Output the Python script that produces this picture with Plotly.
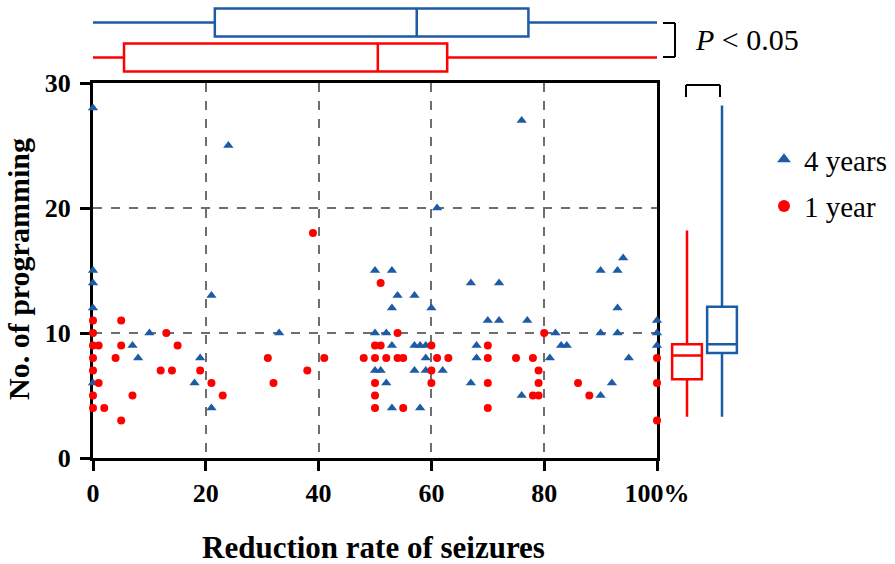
import plotly.graph_objects as go

# scatter data: reduction rate of seizures (%) vs number of programming sessions
four_years_rate = [0, 24, 0, 0, 21, 0, 10, 33, 7, 8, 19, 0, 18, 21,
                   76, 61, 50, 53, 90, 93, 94,
                   54, 57, 53, 60, 50, 52, 53, 57, 58, 59, 59, 50, 51, 57, 59, 62, 52, 53, 58,
                   67, 67, 68, 68, 70, 72, 72, 76, 77, 81, 82, 83, 84, 90, 90, 92, 93, 93, 95,
                   100, 100, 100]
four_years_prog = [28, 25, 15, 14, 13, 12, 10, 10, 9, 8, 8, 6, 6, 4,
                   27, 20, 15, 15, 15, 15, 16,
                   13, 13, 12, 12, 10, 10, 9, 9, 9, 9, 8, 7, 7, 7, 7, 7, 6, 4, 4,
                   14, 6, 9, 8, 11, 14, 11, 5, 11, 8, 10, 9, 9, 10, 5, 6, 12, 10, 8,
                   11, 10, 9]

one_year_rate = [0, 5, 0, 13, 0, 1, 5, 15, 0, 4, 31, 0, 12, 14, 19, 1, 21, 32, 0, 7, 23, 0, 2, 5,
                 39, 38, 41, 48, 50, 50, 50, 50, 50, 51, 51, 52, 54, 54, 55, 55, 60, 60, 60, 61, 63,
                 70, 70, 70, 70, 75, 78, 78, 79, 79, 79, 80, 86, 88, 100, 100, 100]
one_year_prog = [11, 11, 10, 10, 9, 9, 9, 9, 8, 8, 8, 7, 7, 7, 7, 6, 6, 6, 5, 5, 5, 4, 4, 3,
                 18, 7, 8, 8, 9, 8, 6, 5, 4, 14, 9, 8, 10, 8, 8, 4, 9, 7, 6, 8, 8,
                 9, 8, 6, 4, 8, 8, 5, 7, 6, 5, 10, 6, 5, 8, 6, 3]

# box summaries: [4 years, 1 year]
groups = ['4 years', '1 year']
rate_min = [0, 0]
rate_q1 = [21.6, 5.5]
rate_median = [57.4, 50.5]
rate_q3 = [77.2, 62.8]
rate_max = [100, 100]

prog_min = [3.3, 3.3]
prog_q1 = [8.4, 6.3]
prog_median = [9.1, 8.2]
prog_q3 = [12.1, 9.1]
prog_max = [28.2, 18.2]

x_ticks = [0, 20, 40, 60, 80, 100]
x_ticklabels = ['0', '20', '40', '60', '80', '100%']
y_ticks = [0, 10, 20, 30]

BLUE = '#1c5ba6'
RED = '#ff0000'
colors = [BLUE, RED]
FONT = 'Liberation Serif'
W, H = 895, 564

fig = go.Figure()

fig.add_trace(go.Scatter(x=four_years_rate, y=four_years_prog, mode='markers', name='4 years',
                         legendgroup='a', cliponaxis=False,
                         marker=dict(symbol='triangle-up', size=9, color=BLUE)))
fig.add_trace(go.Scatter(x=one_year_rate, y=one_year_prog, mode='markers', name='1 year',
                         legendgroup='b', cliponaxis=False,
                         marker=dict(symbol='circle', size=8, color=RED)))

# top marginal boxes (reduction rate), 4 years on top
for i, g in enumerate(groups):
    fig.add_trace(go.Box(orientation='h', y=[1 - i], q1=[rate_q1[i]], median=[rate_median[i]],
                         q3=[rate_q3[i]], lowerfence=[rate_min[i]], upperfence=[rate_max[i]],
                         xaxis='x2', yaxis='y2', width=0.8, whiskerwidth=0,
                         line=dict(color=colors[i], width=2.5), fillcolor='white',
                         showlegend=False, hoverinfo='skip'))

# right marginal boxes (no. of programming), 1 year on the left
for i, g in enumerate(groups):
    fig.add_trace(go.Box(x=[1 - i], q1=[prog_q1[i]], median=[prog_median[i]],
                         q3=[prog_q3[i]], lowerfence=[prog_min[i]], upperfence=[prog_max[i]],
                         xaxis='x3', yaxis='y3', width=0.85, whiskerwidth=0,
                         line=dict(color=colors[i], width=2.5), fillcolor='white',
                         showlegend=False, hoverinfo='skip'))

main_x = [93 / W, 657 / W]
main_y = [(H - 458) / H, (H - 83) / H]
tick_font = dict(family=FONT, size=26, color='black', weight='bold')
axis_common = dict(showline=True, linewidth=3, linecolor='black', mirror=True,
                   ticks='outside', ticklen=10, tickwidth=3, tickcolor='black',
                   showgrid=True, gridcolor='#6e6e6e', gridwidth=1.5, griddash='dash',
                   zeroline=False, layer='below traces', tickfont=tick_font, automargin=False)

fig.update_layout(
    width=W, height=H, autosize=False,
    margin=dict(l=0, r=0, t=0, b=0, autoexpand=False),
    plot_bgcolor='white', paper_bgcolor='white',
    font=dict(family=FONT, color='black'),
    xaxis=dict(domain=main_x, range=[0, 100], tickvals=x_ticks, ticktext=x_ticklabels,
               anchor='y', **axis_common),
    yaxis=dict(domain=main_y, range=[0, 30], tickvals=y_ticks, anchor='x',
               ticklabelstandoff=4, **axis_common),
    xaxis2=dict(domain=main_x, range=[0, 100], anchor='y2', visible=False),
    yaxis2=dict(domain=[(H - 75) / H, (H - 5) / H], range=[-0.5, 1.5], anchor='x2', visible=False),
    xaxis3=dict(domain=[669.5 / W, 739.5 / W], range=[-0.5, 1.5], anchor='y3', visible=False),
    yaxis3=dict(domain=main_y, range=[0, 30], anchor='x3', visible=False),
    legend=dict(x=764 / W, y=(H - 134) / H, xanchor='left', yanchor='top',
                font=dict(family=FONT, size=29, color='black'),
                itemsizing='constant', tracegroupgap=6, bgcolor='rgba(0,0,0,0)'),
    showlegend=True,
)

# axis titles
fig.add_annotation(text='Reduction rate of seizures', x=373 / W, y=(H - 547) / H,
                   xanchor='center', yanchor='middle',
                   xref='paper', yref='paper', showarrow=False,
                   font=dict(family=FONT, size=31, weight='bold'))
fig.add_annotation(text='No. of programming', x=18 / W, y=(H - 269) / H, textangle=-90,
                   xanchor='center', yanchor='middle',
                   xref='paper', yref='paper', showarrow=False,
                   font=dict(family=FONT, size=30, weight='bold'))
fig.add_annotation(text='<i>P</i> < 0.05', x=693 / W, y=(H - 40) / H,
                   xanchor='left', yanchor='middle',
                   xref='paper', yref='paper', showarrow=False,
                   font=dict(family=FONT, size=30))

# significance brackets
def px_line(x0, y0, x1, y1):
    fig.add_shape(type='line', xref='paper', yref='paper',
                  x0=x0 / W, y0=(H - y0) / H, x1=x1 / W, y1=(H - y1) / H,
                  line=dict(color='black', width=2))

px_line(663, 23, 675, 23)
px_line(663, 57, 675, 57)
px_line(675, 23, 675, 57)
px_line(686, 85, 720, 85)
px_line(686, 85, 686, 97)
px_line(720, 85, 720, 97)

# the page's default body margin would shift the figure by 8px
fig.write_html("out.html", config={'displayModeBar': False},
               post_script="document.body.style.margin='0';")
